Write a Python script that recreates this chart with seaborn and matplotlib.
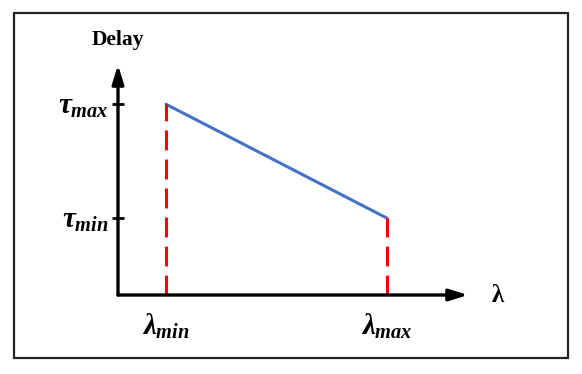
import numpy as np
import pandas as pd
import seaborn as sns
import matplotlib.pyplot as plt
from matplotlib.patches import Rectangle

# values of the sketch (arbitrary units)
lam = [1.0, 5.6]          # lambda_min, lambda_max
delay = [2.48, 1.0]       # tau_max, tau_min
y_ticks = [1.0, 2.48]
y_labels = [r'$\tau_{min}$', r'$\tau_{max}$']
x_labels = [r'$\lambda_{min}$', r'$\lambda_{max}$']

sns.set_style('white')
plt.rcParams['font.family'] = ['Liberation Serif', 'DejaVu Serif']
plt.rcParams['mathtext.fontset'] = 'custom'
plt.rcParams['mathtext.it'] = 'Liberation Serif:bold:italic'
plt.rcParams['mathtext.rm'] = 'Liberation Serif:bold'
plt.rcParams['text.color'] = 'black'
plt.rcParams['xtick.labelcolor'] = 'black'
plt.rcParams['ytick.labelcolor'] = 'black'

fig = plt.figure(figsize=(5.82, 3.74), dpi=100)
ax = fig.add_axes([118 / 582, 79 / 374, 350 / 582, 230 / 374])

df = pd.DataFrame({'lam': lam, 'delay': delay})
sns.lineplot(data=df, x='lam', y='delay', color='#4472C4', lw=2.2, ax=ax)
for xv, yv in zip(lam, delay):
    ax.plot([xv, xv], [0, yv], color='red', lw=2.2, ls=(0, (6.5, 3)))

ax.set_xlim(0, 7.29)
ax.set_ylim(0, 2.99)
for s in ax.spines.values():
    s.set_visible(False)

# axes with arrow heads
arrow = dict(arrowstyle='-|>,head_length=0.7,head_width=0.22', color='black',
             lw=2.4, mutation_scale=16, shrinkA=0, shrinkB=0)
ax.annotate('', xy=(1, 0), xytext=(0, 0), xycoords='axes fraction', arrowprops=arrow)
ax.annotate('', xy=(0, 1), xytext=(0, 0), xycoords='axes fraction', arrowprops=arrow)

ax.set_yticks(y_ticks)
ax.set_yticklabels(y_labels, fontsize=21)
ax.set_xticks(lam)
ax.set_xticklabels(x_labels, fontsize=21)
ax.tick_params(axis='y', direction='inout', length=9, width=2, color='black',
               left=True, pad=2)
ax.tick_params(axis='x', length=0, pad=12)
ax.set_xlabel('')
ax.set_ylabel('')

ax.text(0, 1.11, 'Delay', transform=ax.transAxes, ha='center', va='center',
        fontsize=15.5, fontweight='bold')
ax.text(1.086, 0, 'λ', transform=ax.transAxes, ha='center', va='center',
        fontsize=18, fontweight='bold')

fig.add_artist(Rectangle((14 / 582, 16 / 374), 554 / 582, 345 / 374,
                         transform=fig.transFigure, fill=False,
                         lw=1.6, edgecolor='#222222'))

plt.savefig('out.png', dpi=100)
